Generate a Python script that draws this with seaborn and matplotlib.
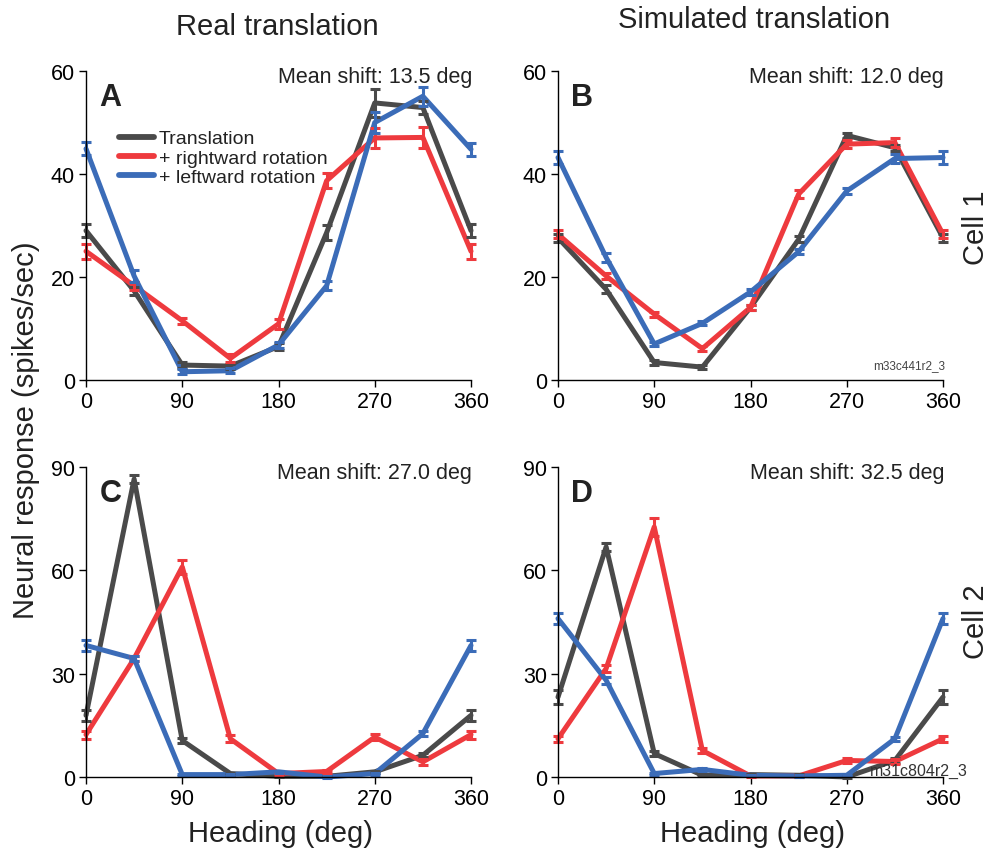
import numpy as np
import pandas as pd
import matplotlib
matplotlib.use("Agg")
import matplotlib.pyplot as plt
import seaborn as sns
from matplotlib.lines import Line2D

sns.set_style("ticks")
plt.rcParams['font.family'] = ['Liberation Sans', 'DejaVu Sans']

headings = [0, 45, 90, 135, 180, 225, 270, 315, 360]
conditions = ["Translation", "+ rightward rotation", "+ leftward rotation"]
colors = ["#4a4a4a", "#ee3a3e", "#3b6cb8"]

# Panel A (Cell 1, real translation)
a_trans = [29.0, 17.3, 2.9, 2.7, 6.5, 28.6, 53.8, 52.9, 29.0]
a_right = [25.0, 18.3, 11.5, 4.2, 10.9, 38.7, 47.0, 47.1, 25.0]
a_left = [44.9, 20.2, 1.6, 1.8, 6.8, 18.3, 50.0, 55.1, 44.8]
a_err_trans = [1.2, 0.8, 0.5, 0.5, 0.6, 1.5, 2.8, 1.2, 1.2]
a_err_right = [1.5, 0.8, 0.6, 0.8, 0.9, 1.5, 2.0, 2.0, 1.5]
a_err_left = [1.3, 1.2, 0.5, 0.5, 0.5, 0.9, 2.0, 1.8, 1.3]

# Panel B (Cell 1, simulated translation)
b_trans = [27.6, 17.6, 3.4, 2.5, 14.1, 27.3, 47.5, 45.1, 27.6]
b_right = [28.3, 20.2, 12.8, 6.1, 14.1, 36.1, 45.8, 46.1, 28.3]
b_left = [43.2, 23.8, 7.0, 11.0, 17.1, 24.9, 36.7, 43.0, 43.2]
b_err_trans = [0.8, 0.8, 0.5, 0.4, 0.5, 0.6, 0.5, 0.6, 0.8]
b_err_right = [0.8, 0.6, 0.5, 0.5, 0.5, 0.7, 0.8, 0.8, 0.8]
b_err_left = [1.2, 0.8, 0.4, 0.4, 0.5, 0.5, 0.6, 0.8, 1.2]

# Panel C (Cell 2, real translation)
c_trans = [17.9, 86.5, 10.6, 1.0, 0.2, 0.2, 1.5, 6.3, 17.9]
c_right = [12.3, 34.4, 61.0, 11.1, 1.0, 1.6, 11.6, 4.4, 12.3]
c_left = [38.2, 34.4, 0.7, 0.7, 1.5, 0.0, 1.0, 12.6, 38.2]
c_err_trans = [1.5, 1.2, 0.8, 0.3, 0.2, 0.2, 0.3, 0.6, 1.5]
c_err_right = [1.2, 0.8, 2.0, 1.0, 0.3, 0.3, 0.8, 0.8, 1.2]
c_err_left = [1.5, 0.8, 0.3, 0.3, 0.3, 0.2, 0.3, 0.8, 1.5]

# Panel D (Cell 2, simulated translation)
d_trans = [23.2, 66.8, 6.8, 0.5, 0.7, 0.5, 0.0, 4.8, 23.2]
d_right = [11.1, 31.5, 72.6, 7.7, 0.3, 0.3, 4.8, 4.5, 11.1]
d_left = [46.0, 28.1, 1.0, 2.2, 0.5, 0.3, 0.5, 11.1, 46.0]
d_err_trans = [2.0, 1.2, 0.8, 0.3, 0.3, 0.3, 0.2, 0.6, 2.0]
d_err_right = [0.8, 1.0, 2.5, 0.8, 0.2, 0.2, 0.6, 0.6, 0.8]
d_err_left = [1.5, 1.0, 0.3, 0.5, 0.2, 0.2, 0.2, 0.6, 1.5]

panels = [
    ("A", [a_trans, a_right, a_left], [a_err_trans, a_err_right, a_err_left], "Mean shift: 13.5 deg", 60),
    ("B", [b_trans, b_right, b_left], [b_err_trans, b_err_right, b_err_left], "Mean shift: 12.0 deg", 60),
    ("C", [c_trans, c_right, c_left], [c_err_trans, c_err_right, c_err_left], "Mean shift: 27.0 deg", 90),
    ("D", [d_trans, d_right, d_left], [d_err_trans, d_err_right, d_err_left], "Mean shift: 32.5 deg", 90),
]

fig = plt.figure(figsize=(9.93, 8.54), dpi=100)
W, H = 993, 854
def ax_rect(x0, x1, ytop, ybot):
    return [x0 / W, 1 - ybot / H, (x1 - x0) / W, (ybot - ytop) / H]

rects = [ax_rect(86, 471, 72, 381), ax_rect(558, 943, 72, 381),
         ax_rect(86, 471, 468, 778), ax_rect(558, 943, 468, 778)]

txt_col = "#222222"
for (letter, series, errs, shift, ymax), rect in zip(panels, rects):
    ax = fig.add_axes(rect)
    rows = []
    for cond, vals in zip(conditions, series):
        for h, v in zip(headings, vals):
            rows.append({"Heading": h, "Response": v, "Condition": cond})
    df = pd.DataFrame(rows)
    sns.lineplot(data=df, x="Heading", y="Response", hue="Condition",
                 hue_order=conditions, palette=colors, linewidth=3.6,
                 legend=False, ax=ax, clip_on=False)
    for vals, err, col in zip(series, errs, colors):
        ax.errorbar(headings, vals, yerr=err, fmt="none", ecolor=col,
                    elinewidth=2.2, capsize=3.5, capthick=2.2, clip_on=False)
    ax.set_xlim(0, 360)
    ax.set_ylim(0, ymax)
    ax.set_xticks([0, 90, 180, 270, 360])
    ticks = np.linspace(0, ymax, 4)
    ax.set_yticks(ticks)
    ax.set_yticklabels([f"{int(t)}" for t in ticks])
    ax.tick_params(direction="out", length=5, width=1.0, labelsize=15.5,
                   colors="black", pad=3)
    ax.set_xlabel("")
    ax.set_ylabel("")
    sns.despine(ax=ax)
    for s in ["left", "bottom"]:
        ax.spines[s].set_linewidth(1.0)
        ax.spines[s].set_color("black")
    ax.text(0.035, 0.965, letter, transform=ax.transAxes, fontsize=22,
            fontweight="bold", color=txt_col, va="top", ha="left")
    ax.text(1.003, 1.015, shift, transform=ax.transAxes, fontsize=15.5,
            color=txt_col, va="top", ha="right")
    if letter == "A":
        handles = [Line2D([0], [0], color=c, lw=4.2) for c in colors]
        ax.legend(handles, conditions, loc="upper left",
                  bbox_to_anchor=(0.066, 0.835), frameon=False, fontsize=14,
                  handlelength=1.8, handletextpad=0.25, labelspacing=0.08,
                  borderaxespad=0, labelcolor=txt_col)
    if letter == "B":
        ax.text(1.005, 0.03, "m33c441r2_3", transform=ax.transAxes,
                fontsize=8.5, color="#444444", ha="right", va="bottom")
    if letter == "D":
        ax.text(1.065, 0.02, "m31c804r2_3", transform=ax.transAxes,
                fontsize=11.5, color="#333333", ha="right", va="center")

big = 21
fig.text(277 / W, 1 - 27 / H, "Real translation", fontsize=big, color=txt_col,
         ha="center", va="center")
fig.text(754 / W, 1 - 20 / H, "Simulated translation", fontsize=big,
         color=txt_col, ha="center", va="center")
fig.text(26 / W, 1 - 430 / H, "Neural response (spikes/sec)", fontsize=big,
         color=txt_col, rotation=90, ha="center", va="center")
fig.text(281 / W, 1 - 834 / H, "Heading (deg)", fontsize=big, color=txt_col,
         ha="center", va="center")
fig.text(752 / W, 1 - 834 / H, "Heading (deg)", fontsize=big, color=txt_col,
         ha="center", va="center")
fig.text(976 / W, 1 - 228 / H, "Cell 1", fontsize=big, color=txt_col,
         rotation=90, ha="center", va="center")
fig.text(976 / W, 1 - 622 / H, "Cell 2", fontsize=big, color=txt_col,
         rotation=90, ha="center", va="center")

fig.savefig("out.png", dpi=100, facecolor="white")
